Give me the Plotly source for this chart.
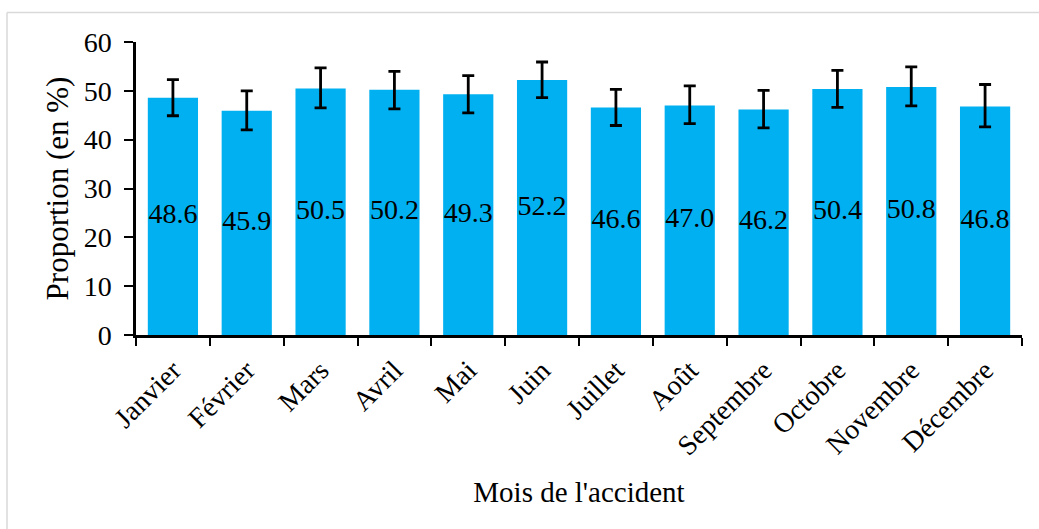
import plotly.graph_objects as go

months = ["Janvier", "Février", "Mars", "Avril", "Mai", "Juin", "Juillet",
          "Août", "Septembre", "Octobre", "Novembre", "Décembre"]
values = [48.6, 45.9, 50.5, 50.2, 49.3, 52.2, 46.6, 47.0, 46.2, 50.4, 50.8, 46.8]
err_plus = [3.7, 4.1, 4.2, 3.8, 3.8, 3.7, 3.7, 4.0, 3.9, 3.8, 4.1, 4.5]
err_minus = [3.7, 3.9, 4.0, 3.9, 3.8, 3.6, 3.7, 3.7, 3.8, 3.8, 3.9, 4.2]
labels = [f"{v:.1f}" for v in values]

FONT = "Liberation Serif, Times New Roman, serif"
W, H = 1039, 529
ML, MR, MT, MB = 136, 17, 42, 194
pw, ph = W - ML - MR, H - MT - MB

fig = go.Figure()
fig.add_trace(go.Bar(
    x=months, y=values,
    marker=dict(color="#00B0F0", line=dict(width=0)),
    error_y=dict(type="data", symmetric=False, array=err_plus, arrayminus=err_minus,
                 color="black", thickness=2.8, width=6),
    showlegend=False, hoverinfo="x+y",
))
fig.add_trace(go.Scatter(
    x=months, y=[v / 2 for v in values], mode="text", text=labels,
    textposition="middle center",
    textfont=dict(family=FONT, size=28, color="black"),
    showlegend=False, hoverinfo="skip", cliponaxis=False,
))

def px_x(p):
    return (p - ML) / pw

def px_y(p):
    return (H - MB - p) / ph

fig.add_shape(type="line", xref="paper", yref="paper",
              x0=px_x(7), x1=px_x(W + 2), y0=px_y(12.5), y1=px_y(12.5),
              line=dict(color="#d9d9d9", width=1.5))
fig.add_shape(type="line", xref="paper", yref="paper",
              x0=px_x(7), x1=px_x(7), y0=px_y(12.5), y1=px_y(H + 2),
              line=dict(color="#d9d9d9", width=1.5))

fig.update_layout(
    width=W, height=H,
    margin=dict(l=ML, r=MR, t=MT, b=MB, autoexpand=False),
    paper_bgcolor="white", plot_bgcolor="white",
    bargap=0.32,
    font=dict(family=FONT, size=28, color="black"),
    xaxis=dict(
        type="category", range=[-0.5, len(months) - 0.5],
        tickangle=-45, tickson="boundaries",
        ticks="outside", ticklen=8, tickwidth=2, tickcolor="black",
        showline=True, linecolor="black", linewidth=2.5,
        showgrid=False, tickfont=dict(family=FONT, size=28),
        ticklabelstandoff=5,
        title=dict(text="Mois de l'accident", font=dict(family=FONT, size=29), standoff=22),
        automargin=False,
    ),
    yaxis=dict(
        range=[0, 60], dtick=10, ticks="outside", ticklen=9, tickwidth=2,
        tickcolor="black", showline=True, linecolor="black", linewidth=2.5,
        showgrid=False, zeroline=False, tickfont=dict(family=FONT, size=28),
        ticklabelstandoff=7,
        title=dict(text="Proportion (en %)", font=dict(family=FONT, size=31), standoff=6),
        automargin=False,
    ),
)

fig.write_html(
    "out.html",
    config={"displayModeBar": False},
    post_script="document.body.style.margin='0';document.body.style.overflow='hidden';",
)
